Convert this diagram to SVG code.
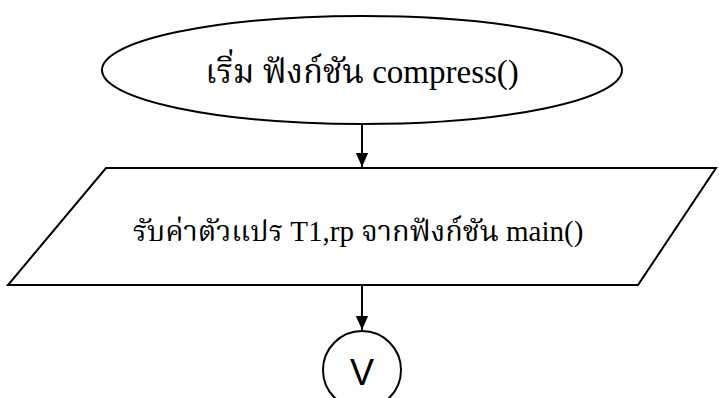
<svg xmlns="http://www.w3.org/2000/svg" width="719" height="398" viewBox="0 0 719 398">
<style>
.shape{fill:#fff;stroke:#000;stroke-width:2}
.edge{stroke:#000;stroke-width:2;fill:none}
.t{font-family:"Liberation Serif","Noto Serif Thai","Noto Sans Thai","Noto Sans CJK SC",serif;fill:#000;text-anchor:middle}
</style>
<defs>
<marker id="ah" markerWidth="14" markerHeight="16" refX="16" refY="7" orient="auto" markerUnits="userSpaceOnUse" viewBox="0 0 16 14">
<path d="M0,0 L16,7 L0,14 Z" fill="#000"/>
</marker>
</defs>
<rect width="719" height="398" fill="#fff"/>
<g id="connectors">
<line class="edge" x1="362" y1="124" x2="362" y2="167" marker-end="url(#ah)"/>
<line class="edge" x1="362" y1="285" x2="362" y2="330" marker-end="url(#ah)"/>
</g>
<g id="start">
<ellipse class="shape" cx="362" cy="70" rx="260" ry="54"/>
<text class="t" x="362" y="83" font-size="33">เริ่ม ฟังก์ชัน compress()</text>
</g>
<g id="input">
<polygon class="shape" points="106,168 716,168 638,285 8,285"/>
<text class="t" x="358" y="241" font-size="29">รับค่าตัวแปร T1,rp จากฟังก์ชัน main()</text>
</g>
<g id="connector-v">
<circle class="shape" cx="362" cy="370" r="39"/>
<text x="362" y="385" font-family="Liberation Sans, Arial, sans-serif" font-size="36" text-anchor="middle">V</text>
</g>
</svg>
